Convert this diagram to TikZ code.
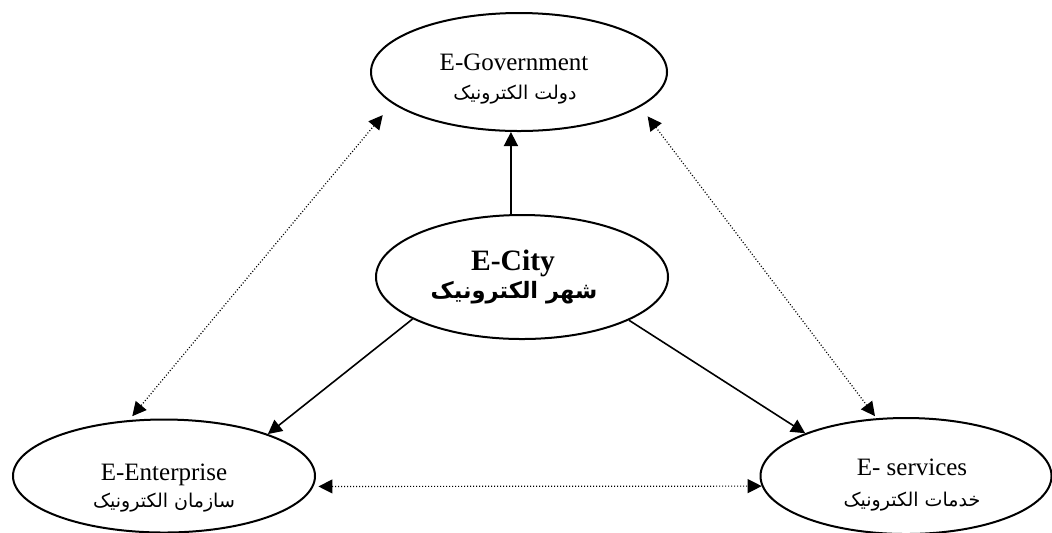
\documentclass[tikz,border=0pt]{standalone}
\usepackage{fontspec}
\setmainfont{Liberation Serif}
\newfontfamily\fa[Script=Arabic]{DejaVu Sans}
\TeXXeTstate=1
\usetikzlibrary{shapes.geometric,arrows.meta,calc}
\tikzset{
  field/.style={ellipse, draw, line width=1pt, inner sep=0pt},
  latin/.style={anchor=base, inner sep=0pt, font=\fontsize{12.5}{14}\selectfont},
  persian/.style={anchor=base, inner sep=0pt, font=\fa\fontsize{9.5}{12}\selectfont},
  link/.style={-{Triangle[length=7pt,width=7pt]}, line width=0.8pt},
  peer/.style={{Triangle[length=7pt,width=7pt]}-{Triangle[length=7pt,width=7pt]},
    line width=0.6pt, dash pattern=on 0.5pt off 1pt},
}
\begin{document}
\begin{tikzpicture}[x=0.5pt,y=-0.5pt]
\useasboundingbox (0,0) rectangle (1052,532);

% the four fields
\node[field, minimum width=148pt, minimum height=59pt] (gov) at (519,72) {};
\node[field, minimum width=146pt, minimum height=62pt] (city) at (522,277) {};
\node[field, minimum width=151pt, minimum height=56.5pt] (ent) at (164,476) {};
\node[field, minimum width=145.5pt, minimum height=58pt] (srv) at (906,476) {};

% captions
\node[latin] (govA) at (514,70) {E-Government};
\node[persian] (govB) at (515,99) {\beginR دولت الکترونیک\endR};
\node[latin, font=\bfseries\fontsize{14.8}{16}\selectfont] (cityA) at (513,270) {E-City};
\node[persian, font=\fa\bfseries\fontsize{11.3}{14}\selectfont] (cityB) at (514,298) {\beginR شهر الکترونیک\endR};
\node[latin] (entA) at (164,480) {E-Enterprise};
\node[persian] (entB) at (164,507) {\beginR سازمان الکترونیک\endR};
\node[latin] (srvA) at (912,475) {E- services};
\node[persian] (srvB) at (912,506) {\beginR خدمات الکترونیک\endR};

% solid links from the city
\draw[link] (city.100) -- (city.100 |- gov.south);
\draw[link] (city.201) -- (ent.22);
\draw[link] (city.-22.3) -- (srv.157.3);

% dotted two-way links between the outer fields
\draw[peer, shorten <=7.5pt, shorten >=2.5pt] (gov.194) -- (ent.122);
\draw[peer, shorten <=6pt, shorten >=1.3pt] (gov.-16.6) -- (srv.117.3);
\draw[peer, shorten <=2.5pt] (ent.-4.3) -- (srv.184.3);
\end{tikzpicture}
\end{document}
